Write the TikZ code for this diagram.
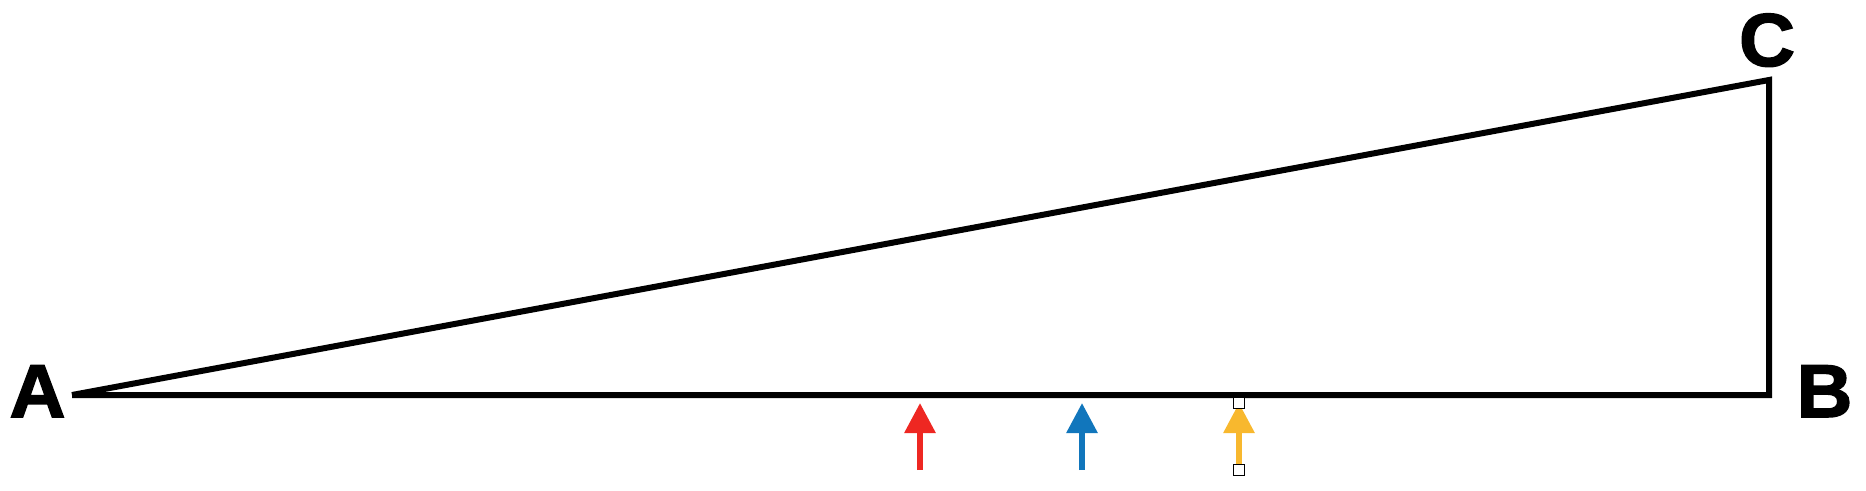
\documentclass[tikz,border=0pt]{standalone}
\usepackage{fontspec}
\setmainfont{Liberation Sans}
\newfontfamily\heavyfont[BoldFeatures={FakeBold=2,FakeStretch=1.03}]{Liberation Sans}
\usetikzlibrary{arrows.meta}
\definecolor{cred}{RGB}{238,39,34}
\definecolor{cblue}{RGB}{17,118,188}
\definecolor{cyellow}{RGB}{248,184,46}
\begin{document}
\begin{tikzpicture}[x=1pt,y=-1pt,
  edge/.style={line width=6pt,line join=miter,line cap=butt},
  lbl/.style={inner sep=0pt,anchor=base,font=\heavyfont\fontsize{75}{75}\selectfont\bfseries},
  uparrow/.style={line width=6pt,-{Triangle[length=30pt,width=30pt]}},
  handle/.style={draw=black,fill=white,line width=1.5pt,minimum size=11pt,inner sep=0pt,shape=rectangle}]
\useasboundingbox (0,0) rectangle (1866,490);
\coordinate (A) at (72,395);
\coordinate (B) at (1769,395);
\coordinate (C) at (1769,80);
\draw[edge] (A) -- (B) -- (C) -- (A);
\node[lbl] (la) at (37.5,417) {A};
\node[lbl] (lb) at (1824.5,417) {B};
\node[lbl] (lc) at (1767,66) {C};
\coordinate (r0) at (920,470); \coordinate (r1) at (920,403);
\coordinate (b0) at (1082,470); \coordinate (b1) at (1082,403);
\coordinate (y0) at (1239,470); \coordinate (y1) at (1239,403);
\draw[uparrow,cred] (r0) -- (r1);
\draw[uparrow,cblue] (b0) -- (b1);
\draw[uparrow,cyellow] (y0) -- (y1);
\node[handle] (h1) at (y1) {};
\node[handle] (h2) at (y0) {};
\end{tikzpicture}
\end{document}
